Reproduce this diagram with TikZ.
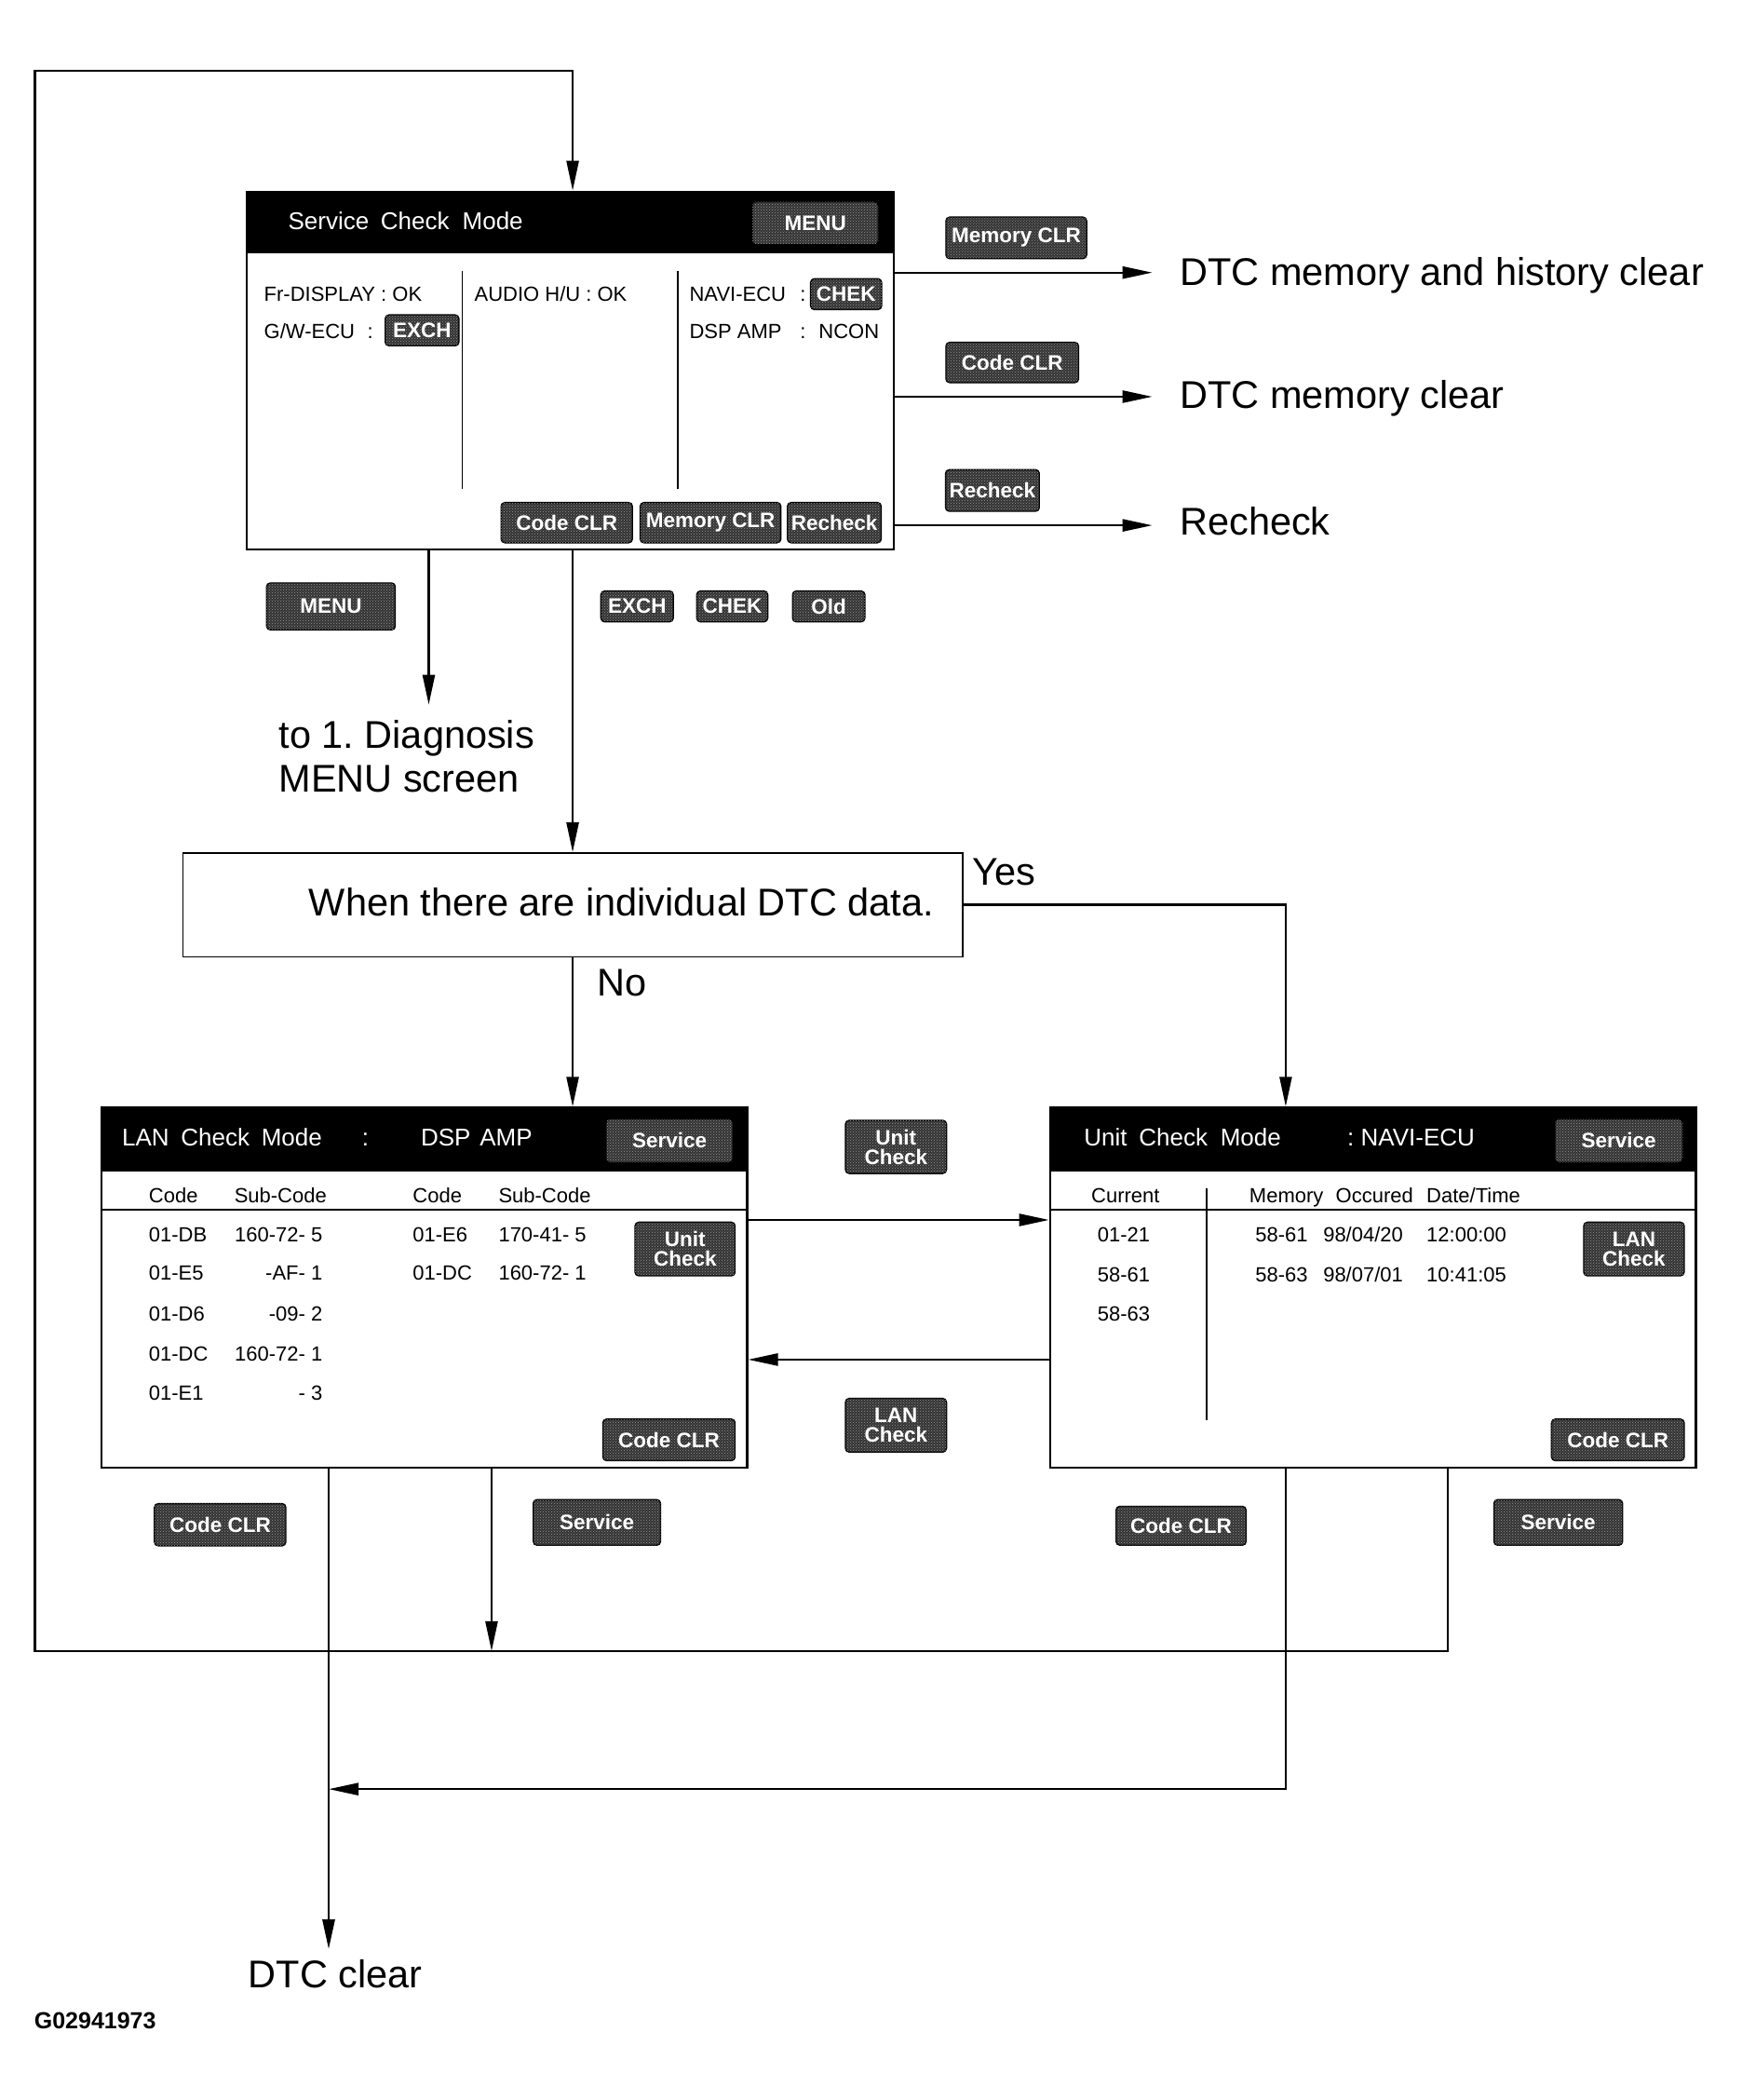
\documentclass[tikz,border=0pt]{standalone}
\usepackage{fontspec}
\setmainfont{Liberation Sans}
\usetikzlibrary{arrows.meta,fit,patterns}
\def\u{1.4392pt}
\tikzset{
  screen/.style={draw, line width=2.2pt, inner sep=0pt},
  conn/.style={line width=2.4pt},
  arr/.style={-{Triangle[length=32pt,width=13pt]}},
  btn/.style={rounded corners=4pt, fill=black!80, draw=black, line width=1.4pt,
    text=white, font=\bfseries\fontsize{22.5}{21}\selectfont, inner sep=0pt, align=center,
    postaction={pattern=crosshatch dots, pattern color=white!60!black}},
  big/.style={font=\fontsize{41.5}{46}\selectfont, inner sep=0pt, anchor=base west},
  scr/.style={font=\fontsize{22}{24}\selectfont, inner sep=0pt, anchor=base west},
  scre/.style={scr, anchor=base east},
  hdr/.style={font=\fontsize{26}{28}\selectfont, text=white, inner sep=0pt, anchor=base west},
  sep/.style={line width=1.8pt},
}
\begin{document}
\frenchspacing
\begin{tikzpicture}[x=\u, y=-\u]
\useasboundingbox (0,0) rectangle (1300,1567);

% ---------- Service Check Mode screen ----------
\fill (184,143) rectangle (667,189);
\node[screen, fit={(184,143)(667,410)}] (svc) {};
\node[hdr] (sh1) at (215,171.4) {Service};
\node[hdr] (sh2) at (284,171.4) {Check};
\node[hdr] (sh3) at (345,171.4) {Mode};
\node[btn, minimum width=94*\u, minimum height=32*\u] (bMenu1) at (608.5,166.5) {MENU};
\draw[sep] (345,202) -- (345,365);
\draw[sep] (506,202) -- (506,365);
\node[scr] (s1) at (197,225) {Fr-DISPLAY : OK};
\node[scr] (s2) at (197,252.5) {G/W-ECU};
\node[scr] (s3) at (274,252.5) {:};
\node[btn, minimum width=55*\u, minimum height=23*\u] (bExch1) at (315,246.5) {EXCH};
\node[scr] (s4) at (354,225) {AUDIO H/U : OK};
\node[scr] (s5) at (514.5,225) {NAVI-ECU};
\node[scr] (s6) at (597,225) {:};
\node[btn, minimum width=53*\u, minimum height=23*\u] (bChek1) at (631.5,219.5) {CHEK};
\node[scr] (s7) at (514.5,252.5) {DSP AMP};
\node[scr] (s8) at (597,252.5) {:};
\node[scr] (s9) at (611,252.5) {NCON};
\node[btn, minimum width=98*\u, minimum height=30*\u] (bCode1) at (423,390) {Code CLR};
\node[btn, minimum width=105*\u, minimum height=30*\u] (bMem1) at (530.3,390) {Memory CLR};
\node[btn, minimum width=70*\u, minimum height=30*\u] (bRe1) at (622.7,390) {Recheck};

% ---------- right outputs ----------
\coordinate (r1) at (860,203.4);
\coordinate (r2) at (860,296);
\coordinate (r3) at (860,392);
\draw[conn,arr] (svc.east |- r1) -- (r1);
\draw[conn,arr] (svc.east |- r2) -- (r2);
\draw[conn,arr] (svc.east |- r3) -- (r3);
\node[big] (l1) at (880.5,213) {DTC memory and history clear};
\node[big] (l2) at (880.5,305) {DTC memory clear};
\node[big] (l3) at (880.5,399) {Recheck};
\node[btn, minimum width=105*\u, minimum height=31*\u] (bMem2) at (758.5,177.5) {Memory CLR};
\node[btn, minimum width=99*\u, minimum height=30*\u] (bCode2) at (755.5,270.5) {Code CLR};
\node[btn, minimum width=70*\u, minimum height=31*\u] (bRe2) at (740.7,366) {Recheck};

% ---------- below service screen ----------
\coordinate (xm) at (320,525.8);
\coordinate (xc) at (427.4,0);
\draw[conn,arr] (svc.south -| xm) -- (xm);
\node[btn, minimum width=96*\u, minimum height=35*\u] (bMenu2) at (247,452.5) {MENU};
\node[big] (l4) at (208,558) {to 1. Diagnosis};
\node[big] (l5) at (208,590.7) {MENU screen};
\node[btn, minimum width=54*\u, minimum height=23*\u] (bExch2) at (475.5,452.5) {EXCH};
\node[btn, minimum width=53*\u, minimum height=23*\u] (bChek2) at (546.5,452.5) {CHEK};
\node[btn, minimum width=54*\u, minimum height=23*\u] (bOld) at (618.5,452.5) {Old};

% ---------- decision ----------
\node[draw, line width=1.8pt, inner sep=0pt, fit={(136.5,636.5)(718.7,714)}] (dec) {};
\node[big] (dtxt) at (230.5,683.3) {When there are individual DTC data.};
\draw[conn,arr] (svc.south -| xc) -- (dec.north -| xc);
\node[big] (yes) at (725.4,660.6) {Yes};
\node[big] (no) at (445.4,743.5) {No};

% ---------- LAN Check Mode screen ----------
\fill (75.5,826.5) rectangle (557.6,874);
\node[screen, fit={(75.5,826.5)(557.6,1095)}] (lan) {};
\node[hdr] (lh1) at (91,855) {LAN};
\node[hdr] (lh2) at (135,855) {Check};
\node[hdr] (lh3) at (195,855) {Mode};
\node[hdr] (lh4) at (270,855) {:};
\node[hdr] (lh5) at (314,855) {DSP};
\node[hdr] (lh6) at (358,855) {AMP};
\node[btn, minimum width=94.6*\u, minimum height=32.5*\u] (bSvc1) at (499.7,851.2) {Service};
\node[scr] (lc1) at (111,897.5) {Code};
\node[scr] (lc2) at (174.8,897.5) {Sub-Code};
\node[scr] (lc3) at (308,897.5) {Code};
\node[scr] (lc4) at (372,897.5) {Sub-Code};
\draw[sep] (75.5,902.7) -- (557.6,902.7);
\node[scr] (la1) at (111,926.3) {01-DB};
\node[scr] (la2) at (111,955.4) {01-E5};
\node[scr] (la3) at (111,986) {01-D6};
\node[scr] (la4) at (111,1015.7) {01-DC};
\node[scr] (la5) at (111,1045) {01-E1};
\node[scre] (lb1) at (240.8,926.3) {160-72- 5};
\node[scre] (lb2) at (240.8,955.4) {-AF- 1};
\node[scre] (lb3) at (240.8,986) {-09- 2};
\node[scre] (lb4) at (240.8,1015.7) {160-72- 1};
\node[scre] (lb5) at (240.8,1045) {- 3};
\node[scr] (ld1) at (308,926.3) {01-E6};
\node[scr] (ld2) at (308,955.4) {01-DC};
\node[scr] (le1) at (372,926.3) {170-41- 5};
\node[scr] (le2) at (372,955.4) {160-72- 1};
\node[btn, minimum width=74.7*\u, minimum height=40*\u] (bUnit1) at (511.3,932) {Unit\\Check};
\node[btn, minimum width=98.7*\u, minimum height=31*\u] (bCode3) at (499.3,1074.4) {Code CLR};

% ---------- Unit Check Mode screen ----------
\fill (783.7,826.5) rectangle (1265.8,874);
\node[screen, fit={(783.7,826.5)(1265.8,1095)}] (uc) {};
\node[hdr] (uh1) at (809,855) {Unit};
\node[hdr] (uh2) at (850,855) {Check};
\node[hdr] (uh3) at (910.7,855) {Mode};
\node[hdr] (uh4) at (1005.5,855) {: NAVI-ECU};
\node[btn, minimum width=95.3*\u, minimum height=32.5*\u] (bSvc2) at (1208.2,851.2) {Service};
\node[scr] (uc1) at (814.4,897.5) {Current};
\node[scr] (uc2) at (932.4,897.5) {Memory};
\node[scr] (uc3) at (996.8,897.5) {Occured};
\node[scr] (uc4) at (1064.6,897.5) {Date/Time};
\draw[sep] (783.7,902.7) -- (1265.8,902.7);
\draw[sep] (900.6,887) -- (900.6,1060);
\node[scr] (ua1) at (819,926.3) {01-21};
\node[scr] (ua2) at (819,956.6) {58-61};
\node[scr] (ua3) at (819,985.6) {58-63};
\node[scr] (ub1) at (936.8,926.3) {58-61};
\node[scr] (ub2) at (987.5,926.3) {98/04/20};
\node[scr] (ub3) at (1064.6,926.3) {12:00:00};
\node[scr] (ub4) at (936.8,956.6) {58-63};
\node[scr] (ub5) at (987.5,956.6) {98/07/01};
\node[scr] (ub6) at (1064.6,956.6) {10:41:05};
\node[btn, minimum width=75*\u, minimum height=40*\u] (bLan1) at (1219.5,932) {LAN\\Check};
\node[btn, minimum width=99*\u, minimum height=31*\u] (bCode4) at (1207.5,1074.4) {Code CLR};

% ---------- decision outputs ----------
\coordinate (yc) at (959.6,675.2);
\draw[conn,arr] (dec.east |- yc) -- (yc) -- (uc.north -| yc);
\draw[conn,arr] (dec.south -| xc) -- (lan.north -| xc);

% ---------- between screens ----------
\coordinate (h1) at (0,910.3);
\coordinate (h2) at (0,1014.5);
\draw[conn,arr] (lan.east |- h1) -- (uc.west |- h1);
\draw[conn,arr] (uc.west |- h2) -- (lan.east |- h2);
\node[btn, minimum width=75.4*\u, minimum height=39.6*\u] (bUnit2) at (668.7,855.8) {Unit\\Check};
\node[btn, minimum width=75.4*\u, minimum height=40*\u] (bLan2) at (668.7,1063.5) {LAN\\Check};

% ---------- bottom flows ----------
\coordinate (xl1) at (245.3,0);
\coordinate (xl2) at (366.9,0);
\coordinate (xu1) at (959.5,0);
\coordinate (xu2) at (1080.7,0);
\coordinate (loopBL) at (26,1232);
\coordinate (loopTL) at (26,53);
\coordinate (yb) at (0,1335);
\coordinate (dtcend) at (245.3,1454.5);
\draw[conn,arr] (uc.south -| xu2) |- (loopBL) -- (loopTL) -| (svc.north -| xc);
\draw[conn,arr] (lan.south -| xl2) -- (xl2 |- loopBL);
\draw[conn,line width=2.9pt,arr] (lan.south -| xl1) -- (dtcend);
\draw[conn,arr] (uc.south -| xu1) |- (xl1 |- yb);
\node[big] (dtc) at (185.3,1483) {DTC clear};
\node[btn, minimum width=98*\u, minimum height=31.5*\u] (bCode5) at (164.3,1137.7) {Code CLR};
\node[btn, minimum width=95*\u, minimum height=34*\u] (bSvc3) at (445.5,1136) {Service};
\node[btn, minimum width=97*\u, minimum height=29*\u] (bCode6) at (881.5,1138.5) {Code CLR};
\node[btn, minimum width=96*\u, minimum height=34*\u] (bSvc4) at (1163,1136) {Service};

\node[font=\bfseries\fontsize{25}{27}\selectfont, anchor=base west, inner sep=0pt] (gid) at (25.5,1513.5) {G02941973};
\end{tikzpicture}
\end{document}
